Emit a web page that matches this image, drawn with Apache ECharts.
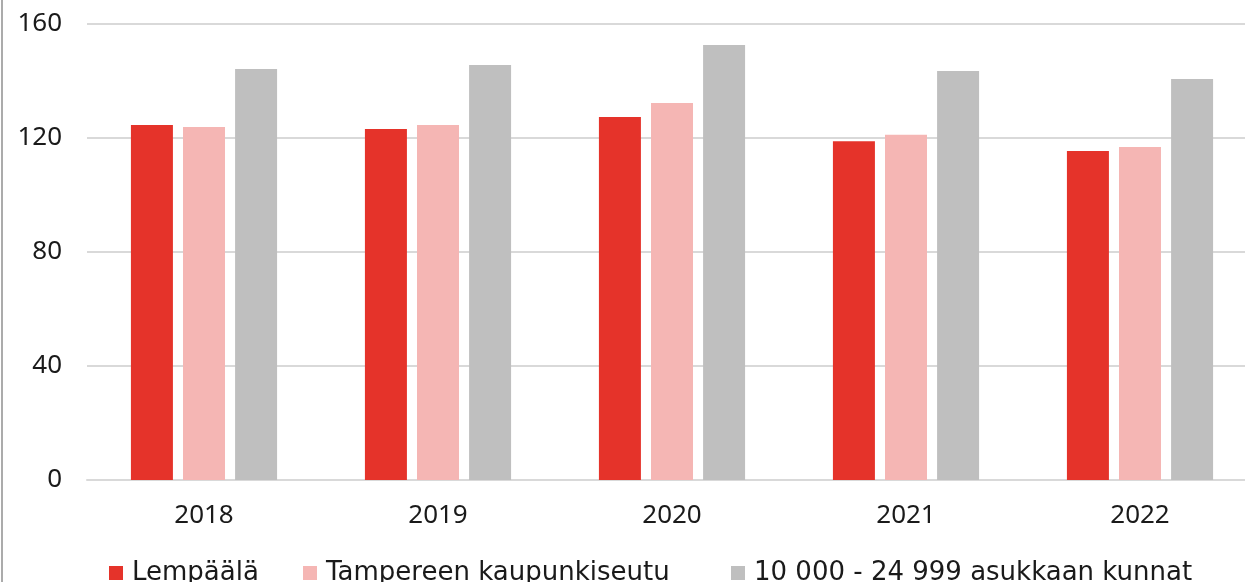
<!DOCTYPE html>
<html>
<head>
<meta charset="utf-8">
<style>
    html, body { margin: 0; padding: 0; background: #fff; }
    #chart { width: 1245px; height: 582px; }
</style>
<script src="https://cdn.jsdelivr.net/npm/echarts@6/dist/echarts.min.js"></script>
</head>
<body>
<div id="chart"></div>
<script>
// data
const years = ['2018', '2019', '2020', '2021', '2022'];
const seriesNames = ['Lempäälä', 'Tampereen kaupunkiseutu', '10 000 - 24 999 asukkaan kunnat'];
const lempaala = [124.6, 123.2, 127.4, 118.9, 115.4];
const tampere = [123.9, 124.6, 132.3, 121.1, 116.8];
const kunnat = [144.2, 145.6, 152.6, 143.5, 140.7];
const yTicks = { min: 0, max: 160, interval: 40 };

const colors = ['#E5332A', '#F5B6B4', '#BFBFBF'];
const font = '"Noto Sans", "Open Sans", sans-serif';
const legendFont = '"DejaVu Sans", "Noto Sans", sans-serif';

let chart;

function buildOption() {
    const values = [lempaala, tampere, kunnat];
    const legendLeft = [109, 303, 731];

    return {
        animation: false,
        textStyle: { fontFamily: font },
        color: colors,
        // plot runs past the right edge, as in the original crop
        grid: { left: 87, top: 24, width: 1170, height: 456, outerBoundsMode: 'none', containLabel: false },
        // one legend per series so each item sits at its own spot
        legend: seriesNames.map((name, i) => ({
            data: [name],
            left: legendLeft[i],
            top: 560,
            padding: 0,
            itemWidth: 14,
            itemHeight: 14,
            icon: 'rect',
            textStyle: { fontSize: 26, color: '#1a1a1a', fontFamily: legendFont, padding: [0, 0, 0, 4] }
        })),
        xAxis: {
            type: 'category',
            data: years,
            axisLine: { lineStyle: { color: '#D9D9D9', width: 2 } },
            axisTick: { show: false },
            axisLabel: { fontSize: 26, color: '#1a1a1a', margin: 23, fontFamily: font }
        },
        yAxis: {
            type: 'value',
            min: yTicks.min,
            max: yTicks.max,
            interval: yTicks.interval,
            axisLine: { show: false },
            axisTick: { show: false },
            axisLabel: { fontSize: 26, color: '#1a1a1a', margin: 25, fontFamily: font },
            splitLine: { lineStyle: { color: '#D9D9D9', width: 2 } }
        },
        series: seriesNames.map((name, i) => ({
            name: name,
            type: 'bar',
            data: values[i],
            barWidth: 42,
            barGap: '24%'
        })),
        graphic: [{
            // thin frame line on the left edge
            type: 'rect',
            left: 1,
            top: 0,
            shape: { width: 2, height: 582 },
            style: { fill: '#ABABAB' }
        }]
    };
}

document.addEventListener('DOMContentLoaded', function() {
    chart = echarts.init(document.getElementById('chart'));
    chart.setOption(buildOption());
    window.addEventListener('resize', function() {
        chart.resize();
    });
});
</script>
</body>
</html>
